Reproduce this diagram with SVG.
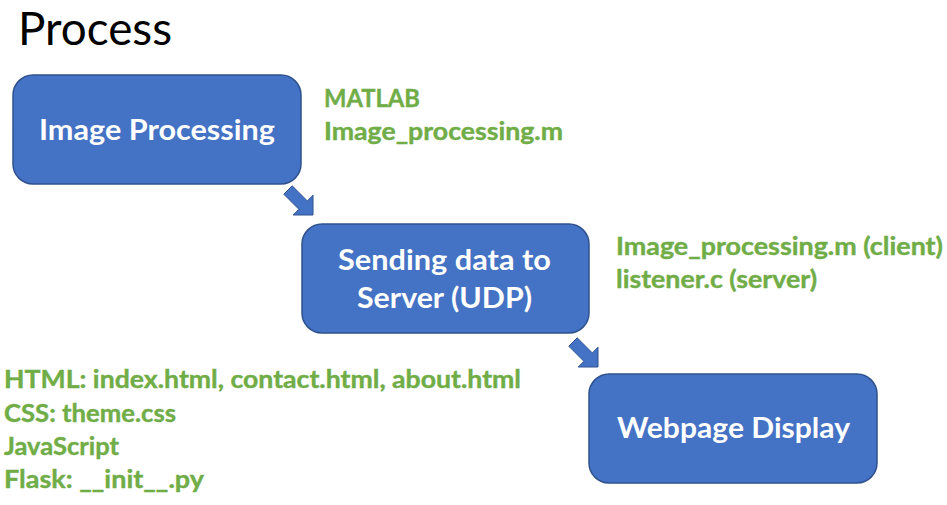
<svg xmlns="http://www.w3.org/2000/svg" width="947" height="505" viewBox="0 0 947 505">
<style>
.box{fill:#4472C4;stroke:#2F528F;stroke-width:1.5}
.bt{font-family:Lato,"Open Sans",sans-serif;font-weight:bold;font-size:28px;fill:#FFFFFF;text-anchor:middle}
.gt{font-family:Lato,"Open Sans",sans-serif;font-weight:bold;font-size:25px;fill:#70AD47;stroke:#70AD47;stroke-width:0.4}
.arr{fill:#4472C4;stroke:#2F528F;stroke-width:1}
</style>
<defs>
<polygon id="arrowShape" points="-29.2,-20.8 -20.8,-29.2 -5.7,-14.1 0,-19.8 0,0 -19.8,0 -14.1,-5.7"/>
</defs>
<rect width="947" height="505" fill="#FFFFFF"/>
<text x="18" y="45" font-family="Lato,'Open Sans',sans-serif" font-size="46" fill="#000000" textLength="154" lengthAdjust="spacingAndGlyphs">Process</text>

<g id="node-image-processing">
<rect class="box" x="13" y="75" width="288" height="109" rx="20" ry="20"/>
<text class="bt" x="157" y="140" textLength="236" lengthAdjust="spacingAndGlyphs">Image Processing</text>
</g>
<g id="node-sending">
<rect class="box" x="302" y="224" width="287" height="109" rx="20" ry="20"/>
<text class="bt" x="444.5" y="270" textLength="213" lengthAdjust="spacingAndGlyphs">Sending data to</text>
<text class="bt" x="444.5" y="308" textLength="175" lengthAdjust="spacingAndGlyphs">Server (UDP)</text>
</g>
<g id="node-webpage">
<rect class="box" x="589" y="374" width="288" height="109" rx="20" ry="20"/>
<text class="bt" x="733.5" y="438" textLength="233" lengthAdjust="spacingAndGlyphs">Webpage Display</text>
</g>

<g id="connectors">
<use href="#arrowShape" class="arr" transform="translate(313,215)"/>
<use href="#arrowShape" class="arr" transform="translate(598,367)"/>
</g>

<g id="notes">
<text class="gt" x="324" y="107" textLength="96" lengthAdjust="spacingAndGlyphs">MATLAB</text>
<text class="gt" x="324" y="140" textLength="239" lengthAdjust="spacingAndGlyphs">Image_processing.m</text>
<text class="gt" x="616" y="255" textLength="327" lengthAdjust="spacingAndGlyphs">Image_processing.m (client)</text>
<text class="gt" x="616" y="288" textLength="201" lengthAdjust="spacingAndGlyphs">listener.c (server)</text>
<text class="gt" x="4" y="388" textLength="517" lengthAdjust="spacingAndGlyphs">HTML: index.html, contact.html, about.html</text>
<text class="gt" x="4" y="422" textLength="172" lengthAdjust="spacingAndGlyphs">CSS: theme.css</text>
<text class="gt" x="4" y="455" textLength="115" lengthAdjust="spacingAndGlyphs">JavaScript</text>
<text class="gt" x="4" y="488" textLength="200" lengthAdjust="spacingAndGlyphs">Flask: __init__.py</text>
</g>
</svg>
